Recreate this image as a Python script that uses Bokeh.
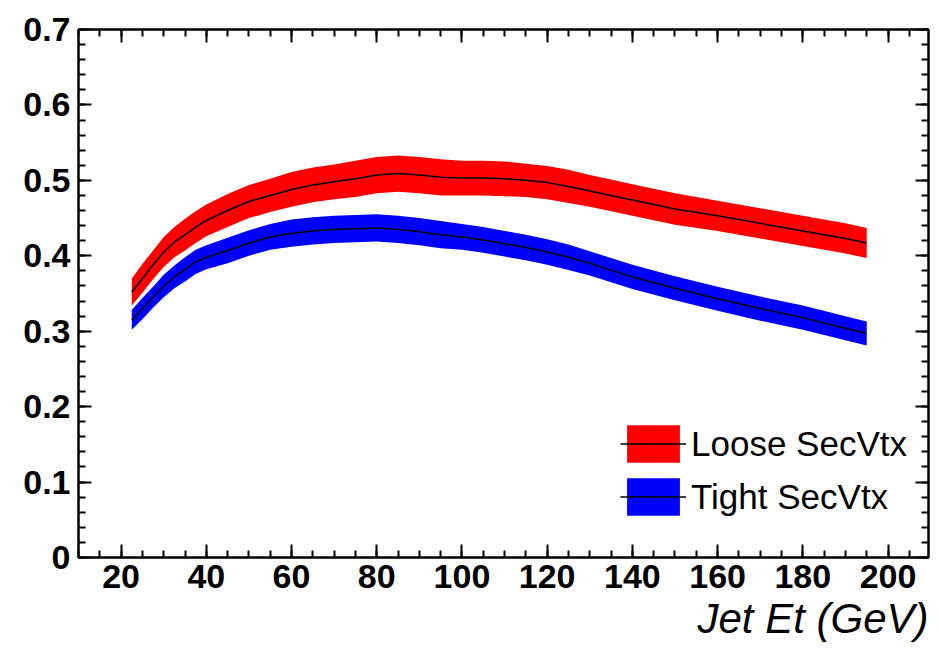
from bokeh.plotting import figure
from bokeh.models import FixedTicker, LinearAxis, Legend, LegendItem, Title, Range1d
from bokeh.embed import file_html
from bokeh.resources import INLINE

jet_et = [22.5, 25, 27.5, 30, 32.5, 35, 37.5, 40, 45, 50, 55, 60, 65, 70, 75, 80, 85, 90,
          95, 100, 105, 110, 115, 120, 125, 130, 135, 140, 150, 160, 170, 180, 190, 195]
loose_eff = [0.352, 0.370, 0.388, 0.405, 0.418, 0.428, 0.438, 0.447, 0.460, 0.472, 0.480,
             0.488, 0.494, 0.498, 0.502, 0.507, 0.509, 0.507, 0.504, 0.503, 0.503, 0.502,
             0.500, 0.497, 0.492, 0.486, 0.480, 0.474, 0.462, 0.453, 0.443, 0.433, 0.423, 0.417]
loose_err = [0.018, 0.019, 0.019, 0.020, 0.020, 0.021, 0.021, 0.021, 0.022, 0.022, 0.022,
             0.023, 0.023, 0.023, 0.024, 0.024, 0.024, 0.024, 0.024, 0.023, 0.023, 0.023,
             0.022, 0.022, 0.022, 0.021, 0.021, 0.021, 0.021, 0.020, 0.020, 0.020, 0.020, 0.020]
tight_eff = [0.315, 0.330, 0.345, 0.360, 0.372, 0.382, 0.392, 0.398, 0.407, 0.417, 0.425,
             0.430, 0.433, 0.435, 0.436, 0.437, 0.435, 0.432, 0.428, 0.425, 0.421, 0.416,
             0.411, 0.405, 0.398, 0.390, 0.381, 0.372, 0.357, 0.343, 0.330, 0.318, 0.304, 0.297]
tight_err = [0.013, 0.014, 0.014, 0.015, 0.015, 0.016, 0.016, 0.016, 0.017, 0.017, 0.017,
             0.018, 0.018, 0.018, 0.018, 0.018, 0.018, 0.018, 0.018, 0.017, 0.017, 0.017,
             0.017, 0.017, 0.017, 0.016, 0.016, 0.016, 0.016, 0.016, 0.016, 0.016, 0.016, 0.016]

x_ticks = [20, 40, 60, 80, 100, 120, 140, 160, 180, 200]
y_ticks = [0, 0.1, 0.2, 0.3, 0.4, 0.5, 0.6, 0.7]
y_tick_labels = ["0", "0.1", "0.2", "0.3", "0.4", "0.5", "0.6", "0.7"]
series_names = ["Loose SecVtx", "Tight SecVtx"]
x_title = "Jet Et (GeV)"

p = figure(width=933, height=645, output_backend="svg", toolbar_location=None,
           x_range=Range1d(10, 209.5), y_range=Range1d(0, 0.7),
           min_border_left=78, min_border_right=5, min_border_top=29, min_border_bottom=88)
p.background_fill_color = "white"
p.border_fill_color = "white"
p.outline_line_color = "black"
p.outline_line_width = 2
p.xgrid.visible = False
p.ygrid.visible = False

def lo(v, e):
    return [a - b for a, b in zip(v, e)]

def hi(v, e):
    return [a + b for a, b in zip(v, e)]

band_l = p.varea(x=jet_et, y1=lo(loose_eff, loose_err), y2=hi(loose_eff, loose_err), fill_color="#ff0000")
line_l = p.line(x=jet_et, y=loose_eff, line_color="black", line_width=1.5)
band_t = p.varea(x=jet_et, y1=lo(tight_eff, tight_err), y2=hi(tight_eff, tight_err), fill_color="#0000ff")
line_t = p.line(x=jet_et, y=tight_eff, line_color="black", line_width=1.5)

minor_x = [v for v in range(10, 211, 5)]
minor_y = [round(i * 0.02, 2) for i in range(0, 36)]

def style(ax, labels):
    ax.axis_line_color = "black"
    ax.axis_line_width = 2
    ax.major_tick_in = 13
    ax.major_tick_out = 0
    ax.minor_tick_in = 7
    ax.minor_tick_out = 0
    ax.major_tick_line_width = 2
    ax.minor_tick_line_width = 2
    ax.major_tick_line_color = "black"
    ax.minor_tick_line_color = "black"
    if labels:
        ax.major_label_text_font = "Liberation Sans"
        ax.major_label_text_font_style = "bold"
        ax.major_label_text_font_size = "34px"
        ax.major_label_text_color = "black"
    else:
        ax.major_label_text_font_size = "0px"
        ax.major_label_text_alpha = 0

xa = p.xaxis[0]
xa.ticker = FixedTicker(ticks=x_ticks, minor_ticks=minor_x)
xa.major_label_standoff = 7
style(xa, True)

ya = p.yaxis[0]
ya.ticker = FixedTicker(ticks=y_ticks, minor_ticks=minor_y)
ya.major_label_overrides = {t: l for t, l in zip(y_ticks, y_tick_labels)}
ya.major_label_standoff = 8
style(ya, True)

xtop = LinearAxis(ticker=FixedTicker(ticks=x_ticks, minor_ticks=minor_x))
style(xtop, False)
p.add_layout(xtop, "above")
yright = LinearAxis(ticker=FixedTicker(ticks=y_ticks, minor_ticks=minor_y))
style(yright, False)
p.add_layout(yright, "right")

p.add_layout(Title(text=x_title, align="right", text_font="Liberation Sans",
                   text_font_style="italic", text_font_size="42px", text_color="black",
                   standoff=4, offset=0), "below")

legend = Legend(items=[LegendItem(label=series_names[0], renderers=[band_l, line_l]),
                       LegendItem(label=series_names[1], renderers=[band_t, line_t])],
                location=(542, 37), glyph_width=66, glyph_height=47, spacing=6,
                label_standoff=5, padding=0, margin=0,
                border_line_color=None, background_fill_alpha=0,
                label_text_font="Liberation Sans", label_text_font_size="35px",
                label_text_color="black")
p.add_layout(legend, "center")

open("out.html", "w").write(file_html(p, INLINE))
